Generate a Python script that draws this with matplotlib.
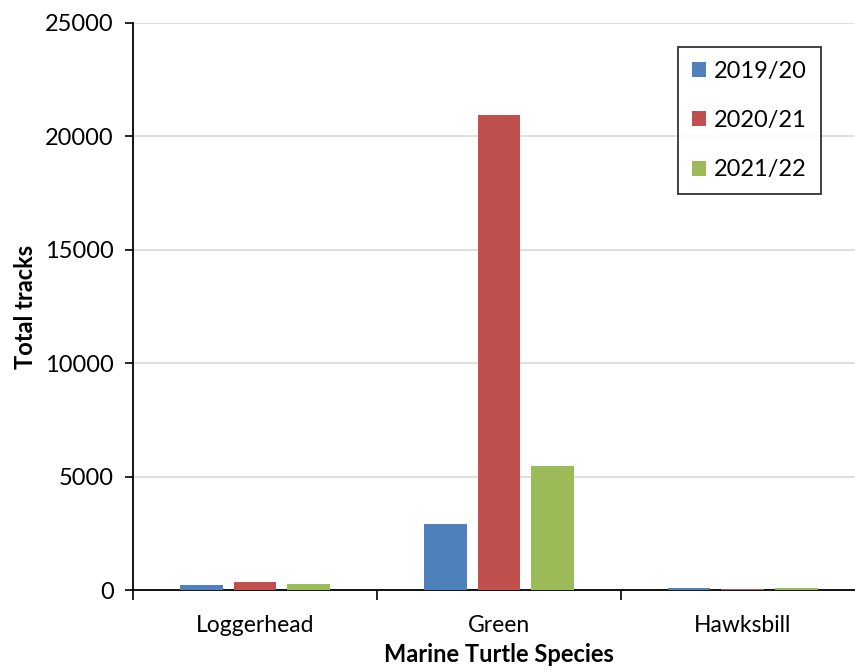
import numpy as np
import matplotlib
matplotlib.use("Agg")
import matplotlib.pyplot as plt

plt.rcParams['font.family'] = ['Lato', 'DejaVu Sans']

species = ['Loggerhead', 'Green', 'Hawksbill']
seasons = ['2019/20', '2020/21', '2021/22']
tracks_1920 = [220, 2930, 90]
tracks_2021 = [350, 20940, 60]
tracks_2122 = [250, 5480, 80]
colors = ['#4F81BD', '#C0504D', '#9BBB59']

fig = plt.figure(figsize=(8.55, 6.72), dpi=100)
ax = fig.add_axes([0.1556, 0.122, 0.856, 0.8438])

x = np.arange(len(species)) + 0.5
width = 0.176
step = 0.221
for i, (vals, lab) in enumerate(zip([tracks_1920, tracks_2021, tracks_2122], seasons)):
    ax.bar(x + (i - 1) * step, vals, width, color=colors[i], label=lab, zorder=3)

ax.set_xlim(0, 3)
ax.set_ylim(0, 25000)
ax.set_yticks(np.arange(0, 25001, 5000))
ax.yaxis.grid(True, color='#d9d9d9', linewidth=1.2, zorder=0)

# category ticks sit on the boundaries, labels at the centres
ax.set_xticks([0, 1, 2, 3])
ax.set_xticklabels([])
ax.set_xticks(x, minor=True)
ax.set_xticklabels(species, minor=True, fontsize=16.5)
ax.tick_params(axis='x', which='minor', length=0, pad=18)
ax.tick_params(axis='x', which='major', length=7, width=1.2, direction='out')
ax.tick_params(axis='y', length=6, width=1.2, labelsize=17, pad=8)

for s in ['top', 'right']:
    ax.spines[s].set_visible(False)
ax.spines['left'].set_linewidth(1.3)
ax.spines['bottom'].set_linewidth(1.3)

ax.set_ylabel('Total tracks', fontsize=17, fontweight='bold', labelpad=6)
ax.set_xlabel('Marine Turtle Species', fontsize=17, fontweight='bold', labelpad=5)

leg = ax.legend(loc='upper left', bbox_to_anchor=(0.7445, 0.9576), fontsize=17,
                frameon=True, fancybox=False, edgecolor='black', labelspacing=1.2,
                handlelength=0.6, handleheight=0.6, handletextpad=0.35,
                borderpad=0.58, borderaxespad=0)
leg.get_frame().set_linewidth(1.3)

fig.savefig('out.png', dpi=100)
